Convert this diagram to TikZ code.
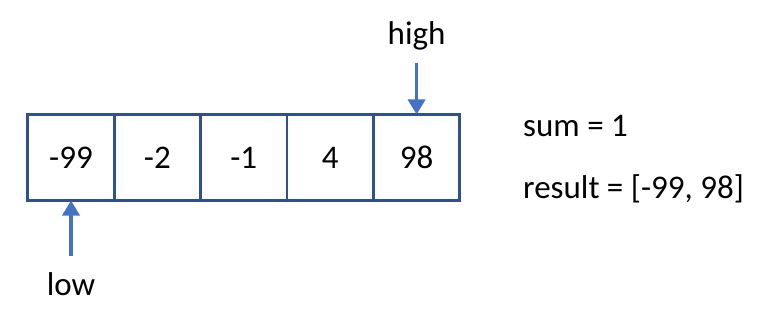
\documentclass[tikz,border=0pt]{standalone}
\usepackage{fontspec}
\setmainfont{Carlito}
\usepackage{tikz}
\usetikzlibrary{positioning,arrows.meta,calc}
\definecolor{cellblue}{HTML}{2F528F}
\definecolor{ptrblue}{HTML}{4472C4}

\begin{document}
\begin{tikzpicture}[
    font=\fontsize{16.5}{20}\selectfont,
    cell/.style={draw=cellblue, line width=1.35pt, minimum width=43.2pt, minimum height=43pt, outer sep=0pt, inner sep=0pt},
    ptr/.style={draw=ptrblue, line width=1.8pt, -{Triangle[width=8.5pt,length=7.5pt]}},
    lbl/.style={inner sep=0pt}
  ]
    \useasboundingbox (-35.5pt,-79.25pt) rectangle (352.5pt,78.75pt);
    % the array
    \node[cell] (c1) at (0,0) {-99};
    \node[cell, right=0pt of c1] (c2) {-2};
    \node[cell, right=0pt of c2] (c3) {-1};
    \node[cell, right=0pt of c3] (c4) {4};
    \node[cell, right=0pt of c4] (c5) {98};
    % pointers
    \node[lbl, above=32pt of c5] (high) {high};
    \node[lbl, below=36pt of c1] (low) {low};
    \draw[ptr, shorten <=6.5pt] (high.south) -- (c5.north);
    \draw[ptr, shorten <=8.5pt] (low.north) -- (c1.south);
    % state
    \node[lbl, anchor=base west] (sum) at ($(c5.east)+(31.5pt,10.4pt)$) {sum = 1};
    \node[lbl, anchor=base west] (result) at ($(sum.base west)+(0,-31pt)$) {result = [-99, 98]};
  \end{tikzpicture}
\end{document}
